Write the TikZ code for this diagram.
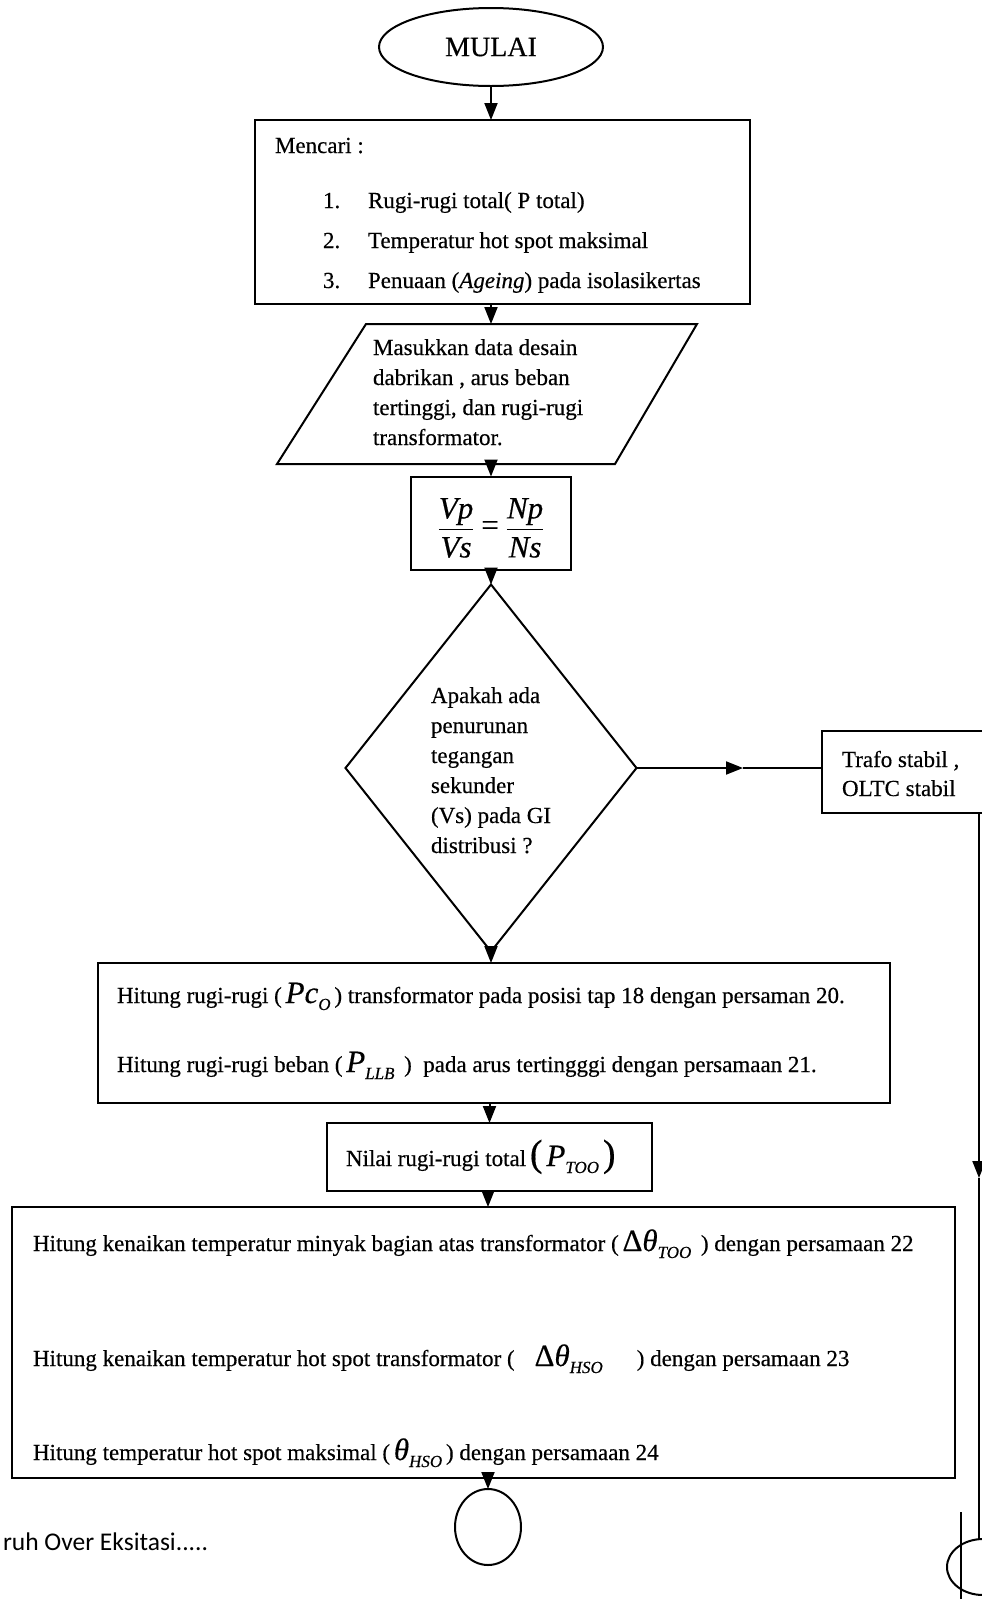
\documentclass[tikz,border=0pt]{standalone}
\usepackage{fontspec}
\setmainfont{Liberation Serif}[FakeBold=0.4]
\newfontfamily\calib{Carlito}
\usetikzlibrary{arrows.meta,shapes.geometric}
\newcommand\bigit[1]{{\fontsize{31}{31}\selectfont\itshape #1}}
\newcommand\midit[1]{{\fontsize{31}{31}\selectfont #1}}
\newcommand\subit[1]{\raisebox{-7pt}{\fontsize{17}{17}\selectfont\itshape #1}}
\newcommand\bigparen[1]{{\fontsize{38}{38}\selectfont #1}}
\begin{document}
\begin{tikzpicture}[x=1pt,y=-1pt,
  line width=2pt,
  every node/.style={inner sep=0pt,outer sep=0pt},
  boxnode/.style={draw,rectangle},
  ovalnode/.style={draw,ellipse},
  arr/.style={-{Triangle[length=17pt,width=13pt]}},
  txt/.style={anchor=base west,font=\fontsize{23}{28}\selectfont},
]
\useasboundingbox[fill=white] (0,0) rectangle (982,1599);

% start
\node[ovalnode,minimum width=224,minimum height=78,font=\fontsize{28}{28}\selectfont] (start) at (491,47) {MULAI};

% box 1
\node[boxnode,minimum width=495,minimum height=184] (b1) at (502.5,212) {};
\node[txt] (b1t0) at (275,153) {Mencari :};
\node[txt] (b1n1) at (323,208) {1.};
\node[txt] (b1i1) at (368,208) {Rugi-rugi total( P total)};
\node[txt] (b1n2) at (323,248) {2.};
\node[txt] (b1i2) at (368,248) {Temperatur hot spot maksimal};
\node[txt] (b1n3) at (323,288) {3.};
\node[txt] (b1i3) at (368,288) {Penuaan (\textit{Ageing}) pada isolasikertas};

% input parallelogram
\draw (366,324) -- (697,324) -- (615,464) -- (277,464) -- cycle;
\coordinate (pintop) at (491,324);
\coordinate (pinbot) at (491,464);
\node[txt] (p1) at (373,355) {Masukkan data desain};
\node[txt] (p2) at (373,385) {dabrikan , arus beban};
\node[txt] (p3) at (373,415) {tertinggi, dan rugi-rugi};
\node[txt] (p4) at (373,445) {transformator.};

% formula box
\node[boxnode,minimum width=160,minimum height=93] (fb) at (491,523) {};
\node[font=\fontsize{31}{31}\selectfont] (frm) at (491,528)
  {$\displaystyle\frac{\textit{Vp}\rule[-9pt]{0pt}{9pt}}{\rule{0pt}{27pt}\textit{Vs}}\mathrel{\mbox{=}}\frac{\textit{Np}\rule[-9pt]{0pt}{9pt}}{\rule{0pt}{27pt}\textit{Ns}}$};

% decision
\node[draw,diamond,minimum width=291,minimum height=367] (dia) at (491,768) {};
\node[txt] (d1) at (431,703) {Apakah ada};
\node[txt] (d2) at (431,733) {penurunan};
\node[txt] (d3) at (431,763) {tegangan};
\node[txt] (d4) at (431,793) {sekunder};
\node[txt] (d5) at (431,823) {(Vs) pada GI};
\node[txt] (d6) at (431,853) {distribusi ?};

% trafo box
\node[boxnode,minimum width=180,minimum height=82] (trafo) at (912,772) {};
\node[txt] (t1) at (842,767) {Trafo stabil ,};
\node[txt] (t2) at (842,796) {OLTC stabil};

% box 4
\node[boxnode,minimum width=792,minimum height=140] (b4) at (494,1033) {};
\node[txt] (b4l1) at (117,1003) {Hitung rugi-rugi (\,\bigit{Pc}\subit{O}\,) transformator pada posisi tap 18 dengan persaman 20.};
\node[txt] (b4l2) at (117,1072) {Hitung rugi-rugi beban (\,\bigit{P}\subit{LLB}\, )\ \ pada arus tertingggi dengan persamaan 21.};

% nilai box
\node[boxnode,minimum width=325,minimum height=68] (nl) at (489.5,1157) {};
\node[txt] (nlt) at (346,1166) {Nilai rugi-rugi total\,\bigparen{(}\,\midit{\itshape P}\subit{TOO}\,\bigparen{)}};

% box 6
\node[boxnode,minimum width=943,minimum height=271] (b6) at (483.5,1342.5) {};
\node[txt] (b6l1) at (33,1251) {Hitung kenaikan temperatur minyak bagian atas transformator (\,\midit{Δ\textit{θ}}\subit{TOO}\ \,) dengan persamaan 22};
\node[txt] (b6l2) at (33,1366) {Hitung kenaikan temperatur hot spot transformator (\hspace{20pt}\midit{Δ\textit{θ}}\subit{HSO}\hspace{34pt}) dengan persamaan 23};
\node[txt] (b6l3) at (33,1460) {Hitung temperatur hot spot maksimal (\,\midit{\textit{θ}}\subit{HSO}\,) dengan persamaan 24};

% end connector
\node[ovalnode,minimum width=66,minimum height=76] (endc) at (488,1527) {};
\node[ovalnode,minimum width=72,minimum height=56] (conn) at (983,1567) {};

% footer text
\node[anchor=base west,font=\calib\fontsize{25.5}{30}\selectfont] (foot) at (3,1550) {ruh Over Eksitasi.....};

% connectors
\draw[arr] (start.south) -- (start.south |- b1.north);
\draw[arr] (b1.south -| start.south) -- (pintop);
\draw[arr] (pinbot) -- (fb.north);
\draw[arr] (fb.south) -- (dia.north);
\draw[arr] (dia.south) -- (dia.south |- b4.north);
\draw[arr] (b4.south -| nl.north) -- (nl.north);
\draw[arr] (nl.south -| endc.north) -- (endc.north |- b6.north);
\draw[arr] (b6.south -| endc.north) -- (endc.north);

\coordinate (amid) at (743,768);
\draw[arr] (dia.east) -- (amid);
\draw (amid) -- (trafo.west |- amid);

\coordinate (rx) at (979,1178);
\draw[arr] (trafo.south -| rx) -- (rx);
\draw (rx) -- (rx |- conn.north);
\draw (961,1512) -- (961,1600);
\end{tikzpicture}
\end{document}
